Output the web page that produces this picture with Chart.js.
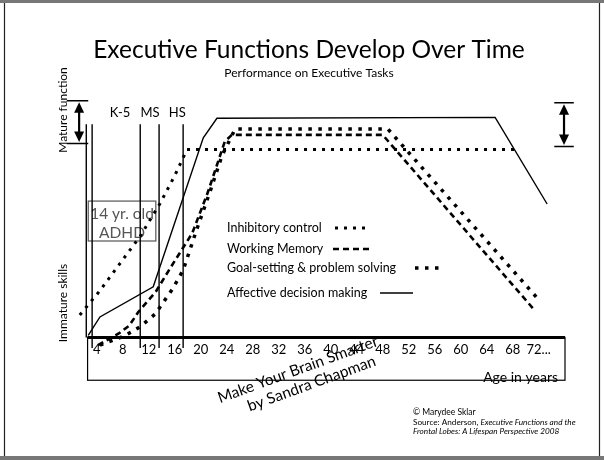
<!DOCTYPE html>
<html>
<head>
<meta charset="utf-8">
<script src="https://cdn.jsdelivr.net/npm/chart.js@4"></script>
<style>
  html, body { margin: 0; padding: 0; background: #fff; }
  #wrap { width: 604px; height: 460px; }
</style>
</head>
<body>
<div id="wrap"><canvas id="efChart" width="604" height="460"></canvas></div>
<script>
// x ticks (age in years)
const ageTicks = [4, 8, 12, 16, 20, 24, 28, 32, 36, 40, 44, 48, 52, 56, 60, 64, 68, 72];

// performance, 0 = immature skills, ~100 = mature function
const inhibAges = [1.4, 4.5, 7.6, 10.7, 13.7, 16.0, 17.9, 69.1];
const inhibVals = [11.5, 24, 38, 52, 68.5, 83, 96.5, 96.5];

const memoryAges = [4.2, 7.4, 9.0, 10.4, 13.1, 15.3, 18.7, 21.1, 23.7, 24.8, 48.0, 71.1];
const memoryVals = [-4, 2, 6, 13, 23.5, 35.5, 53.5, 74.5, 100.5, 104, 104, 15];

const goalAges = [4.5, 8.4, 10.7, 13.0, 15.7, 17.3, 19.4, 21.4, 23.3, 25.3, 48.8, 71.7];
const goalVals = [-4, 1, 5.5, 12, 25, 34.5, 55.5, 74.5, 93.5, 107, 107, 20.5];

const affectAges = [2.7, 4.5, 12.7, 20.4, 22.5, 65.3, 73.3];
const affectVals = [1, 10.5, 26, 102.5, 112.5, 113, 68.5];

// school markers
const gradeLines = [2.4, 3.3, 10.7, 13.6, 17.3];
const schoolLabels = ['K-5', 'MS', 'HS'];
const schoolLabelAges = [7.6, 12.2, 16.4];

const FONT = 'Lato, "Open Sans", sans-serif';

function pts(xs, ys) { return xs.map((x, i) => ({ x: x, y: ys[i] })); }

const seriesStyle = [
  { label: 'Inhibitory control', dash: [3, 6], width: 3 },
  { label: 'Working Memory', dash: [6, 4], width: 2.6 },
  { label: 'Goal-setting & problem solving', dash: [3.5, 6.5], width: 3.5 },
  { label: 'Affective decision making', dash: [], width: 1.4 }
];

function arrowPair(ctx, x, yTop, yBot, xl, xr) {
  ctx.save();
  ctx.strokeStyle = '#000';
  ctx.fillStyle = '#000';
  ctx.lineWidth = 1.5;
  ctx.beginPath();
  ctx.moveTo(xl, yTop); ctx.lineTo(xr, yTop);
  ctx.moveTo(xl, yBot); ctx.lineTo(xr, yBot);
  ctx.stroke();
  ctx.lineWidth = 2.2;
  ctx.beginPath();
  ctx.moveTo(x, yTop + 8); ctx.lineTo(x, yBot - 8);
  ctx.stroke();
  ctx.beginPath();
  ctx.moveTo(x, yTop + 1.5); ctx.lineTo(x - 5, yTop + 12); ctx.lineTo(x + 5, yTop + 12);
  ctx.closePath(); ctx.fill();
  ctx.beginPath();
  ctx.moveTo(x, yBot - 1.5); ctx.lineTo(x - 5, yBot - 12); ctx.lineTo(x + 5, yBot - 12);
  ctx.closePath(); ctx.fill();
  ctx.restore();
}

const decorPlugin = {
  id: 'decor',
  beforeDatasetsDraw(chart) {
    const ctx = chart.ctx, X = chart.scales.x, Y = chart.scales.y;
    // 14 yr. old ADHD box
    const l = X.getPixelForValue(2.7), r = X.getPixelForValue(13.1);
    const t = Y.getPixelForValue(70), b = Y.getPixelForValue(49.5);
    ctx.save();
    ctx.strokeStyle = '#555';
    ctx.lineWidth = 1.2;
    ctx.strokeRect(l, t, r - l, b - t);
    ctx.fillStyle = '#555';
    ctx.font = '15.5px ' + FONT;
    ctx.textAlign = 'center';
    ctx.textBaseline = 'middle';
    ctx.fillText('14 yr. old', (l + r) / 2, t + 13);
    ctx.fillText('ADHD', (l + r) / 2, t + 32);
    ctx.restore();
  },
  afterDatasetsDraw(chart) {
    const ctx = chart.ctx, X = chart.scales.x, Y = chart.scales.y;
    const y0 = Y.getPixelForValue(0);
    const xL = X.getPixelForValue(2.6), xR = X.getPixelForValue(76.05);
    const boxB = Y.getPixelForValue(-22);
    ctx.save();
    ctx.strokeStyle = '#000';
    // box under the axis
    ctx.lineWidth = 1.2;
    ctx.strokeRect(xL, y0, xR - xL, boxB - y0);
    // axis line
    ctx.lineWidth = 3;
    ctx.beginPath();
    ctx.moveTo(xL, y0); ctx.lineTo(xR, y0);
    ctx.stroke();
    // school lines
    ctx.lineWidth = 1.4;
    gradeLines.forEach((a, i) => {
      const x = X.getPixelForValue(a);
      ctx.beginPath();
      ctx.moveTo(x, Y.getPixelForValue(109.5));
      ctx.lineTo(x, i === 0 ? y0 : Y.getPixelForValue(-5.5));
      ctx.stroke();
    });
    ctx.fillStyle = '#000';
    ctx.font = '13px ' + FONT;
    ctx.textAlign = 'center';
    ctx.textBaseline = 'middle';
    schoolLabels.forEach((s, i) => {
      ctx.fillText(s, X.getPixelForValue(schoolLabelAges[i]), Y.getPixelForValue(115.5));
    });
    // mature-function arrows
    arrowPair(ctx, X.getPixelForValue(1.3), Y.getPixelForValue(121.5), Y.getPixelForValue(99.5),
      X.getPixelForValue(-0.6), X.getPixelForValue(2.7));
    arrowPair(ctx, X.getPixelForValue(75.9), Y.getPixelForValue(120.5), Y.getPixelForValue(98),
      X.getPixelForValue(74.4), X.getPixelForValue(77.4));
    // side labels
    ctx.font = '12px ' + FONT;
    [['Mature function', 110], ['Immature skills', 303]].forEach(([s, cy]) => {
      ctx.save();
      ctx.translate(63, cy);
      ctx.rotate(-Math.PI / 2);
      ctx.fillText(s, 0, 0);
      ctx.restore();
    });
    // legend
    const legendY = [228, 249, 268, 293];
    const sampleX = [[335, 370], [333, 370], [415, 440], [380, 413]];
    ctx.textAlign = 'left';
    ctx.font = '12.5px ' + FONT;
    seriesStyle.forEach((s, i) => {
      ctx.fillText(s.label, 227, legendY[i]);
      ctx.save();
      ctx.lineWidth = s.width;
      ctx.setLineDash(s.dash);
      ctx.beginPath();
      ctx.moveTo(sampleX[i][0], legendY[i]);
      ctx.lineTo(sampleX[i][1], legendY[i]);
      ctx.stroke();
      ctx.restore();
    });
    // x title
    ctx.font = '14px ' + FONT;
    ctx.textAlign = 'right';
    ctx.fillText('Age in years', 558, 377);
    // watermark
    ctx.save();
    ctx.translate(301, 378);
    ctx.rotate(-20 * Math.PI / 180);
    ctx.font = '15.5px ' + FONT;
    ctx.textAlign = 'center';
    ctx.fillText('Make Your Brain Smarter', 0, -9);
    ctx.fillText('by Sandra Chapman', 8, 9);
    ctx.restore();
    // source note
    ctx.textAlign = 'left';
    ctx.font = '8.5px ' + FONT;
    ctx.fillText('\u00A9 Marydee Sklar', 413, 412);
    ctx.font = '8.2px ' + FONT;
    const src = 'Source: Anderson, ';
    ctx.fillText(src, 413, 422);
    const w = ctx.measureText(src).width;
    ctx.font = 'italic 8.2px ' + FONT;
    ctx.fillText('Executive Functions and the', 413 + w, 422);
    ctx.fillText('Frontal Lobes: A Lifespan Perspective 2008', 413, 431);
    // page frame
    ctx.fillStyle = '#777';
    ctx.fillRect(0, 0, 604, 3);
    ctx.fillRect(0, 456, 604, 4);
    ctx.strokeStyle = '#222';
    ctx.lineWidth = 1.2;
    ctx.beginPath();
    ctx.moveTo(4.5, 3); ctx.lineTo(4.5, 456);
    ctx.moveTo(599.5, 3); ctx.lineTo(599.5, 456);
    ctx.stroke();
    ctx.restore();
  }
};

const allData = [
  pts(inhibAges, inhibVals),
  pts(memoryAges, memoryVals),
  pts(goalAges, goalVals),
  pts(affectAges, affectVals)
];

new Chart(document.getElementById('efChart'), {
  type: 'line',
  data: {
    datasets: seriesStyle.map((s, i) => ({
      label: s.label,
      data: allData[i],
      borderColor: '#000',
      borderWidth: s.width,
      borderDash: s.dash,
      borderCapStyle: 'butt',
      pointRadius: 0,
      tension: 0,
      fill: false,
      clip: false
    }))
  },
  options: {
    responsive: false,
    animation: false,
    events: [],
    layout: { padding: { left: 40, right: 26, top: 0, bottom: 97 } },
    plugins: {
      legend: { display: false },
      tooltip: { enabled: false },
      title: {
        display: true,
        text: 'Executive Functions Develop Over Time',
        color: '#000',
        font: { family: FONT, size: 24.5, weight: 'normal' },
        padding: { top: 35, bottom: 2 }
      },
      subtitle: {
        display: true,
        text: 'Performance on Executive Tasks',
        color: '#000',
        font: { family: FONT, size: 12, weight: 'normal' },
        padding: { top: 0, bottom: 19 }
      }
    },
    scales: {
      x: {
        type: 'linear',
        min: -4.72,
        max: 78.05,
        grid: { display: false, drawTicks: false },
        border: { display: false },
        afterBuildTicks: axis => { axis.ticks = ageTicks.map(v => ({ value: v })); },
        ticks: {
          padding: 5,
          color: '#000',
          autoSkip: false,
          maxRotation: 0,
          font: { family: FONT, size: 13 },
          callback: v => (v === 72 ? '72...' : String(v))
        }
      },
      y: { display: false, min: 0, max: 122 }
    }
  },
  plugins: [decorPlugin]
});
</script>
</body>
</html>
